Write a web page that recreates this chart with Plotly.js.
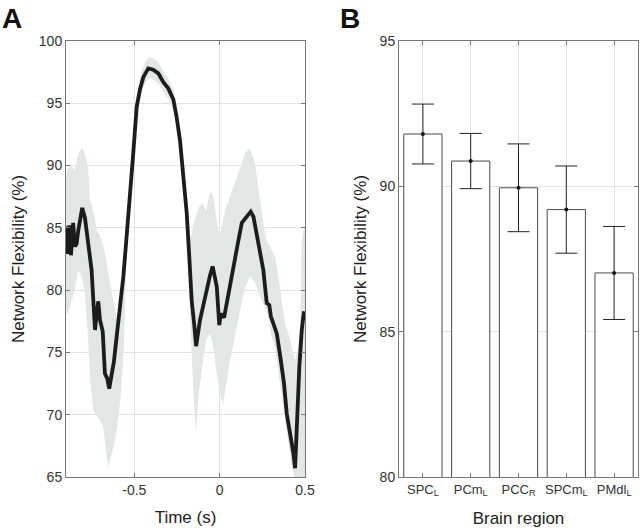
<!DOCTYPE html>
<html>
<head>
<meta charset="utf-8">
<script src="https://cdn.plot.ly/plotly-3.0.1.min.js"></script>
<style>html,body{margin:0;padding:0;background:#fff;}#chart{width:640px;height:531px;}</style>
</head>
<body>
<div id="chart"></div>
<script>
// ---- Panel A: network flexibility over time ----
const time = [-0.900,-0.895,-0.890,-0.881,-0.871,-0.858,-0.848,-0.838,-0.828,-0.818,-0.805,-0.789,-0.770,-0.750,-0.740,-0.730,-0.720,-0.711,-0.701,-0.685,-0.672,-0.658,-0.647,-0.632,-0.620,-0.603,-0.584,-0.564,-0.545,-0.525,-0.506,-0.486,-0.467,-0.447,-0.418,-0.389,-0.359,-0.330,-0.301,-0.271,-0.252,-0.232,-0.213,-0.193,-0.178,-0.164,-0.148,-0.138,-0.115,-0.086,-0.056,-0.041,-0.017,-0.002,0.006,0.026,0.051,0.080,0.110,0.130,0.159,0.182,0.198,0.217,0.237,0.256,0.276,0.291,0.300,0.335,0.358,0.377,0.393,0.413,0.432,0.442,0.455,0.467,0.481,0.494];
const flexibility = [83.0,85.1,82.9,85.2,82.8,85.4,83.5,83.7,84.8,85.8,86.6,85.8,84.0,81.6,79.2,76.8,78.1,79.1,77.6,76.7,73.3,72.9,72.1,73.3,74.2,76.3,78.4,81.1,84.3,87.5,91.0,94.7,96.1,97.1,97.8,97.7,97.4,96.7,96.2,95.3,93.9,92.0,89.4,86.2,82.7,79.2,77.1,75.5,77.6,79.5,81.2,81.9,80.3,77.2,78.1,77.8,79.75,81.9,84.0,85.4,85.9,86.3,85.9,84.6,83.2,81.6,78.95,78.8,77.9,76.5,74.4,72.5,70.1,68.5,66.9,65.7,70.1,73.9,76.8,78.3];

const bandTime = [-0.900,-0.890,-0.870,-0.850,-0.830,-0.808,-0.790,-0.770,-0.760,-0.740,-0.720,-0.700,-0.682,-0.665,-0.652,-0.640,-0.620,-0.600,-0.584,-0.564,-0.545,-0.525,-0.506,-0.486,-0.467,-0.447,-0.418,-0.389,-0.359,-0.330,-0.301,-0.271,-0.252,-0.232,-0.213,-0.193,-0.178,-0.164,-0.150,-0.138,-0.120,-0.100,-0.080,-0.056,-0.037,-0.017,0.000,0.018,0.040,0.061,0.090,0.120,0.150,0.178,0.207,0.237,0.260,0.276,0.300,0.325,0.345,0.364,0.384,0.403,0.420,0.442,0.461,0.471,0.481,0.490,0.500];
const bandUpper = [89.0,89.8,90.0,89.6,90.8,91.5,91.0,89.8,87.2,86.4,84.8,84.3,83.6,82.5,81.3,80.4,78.8,77.5,79.3,82.0,85.2,88.4,91.9,95.6,97.0,98.0,98.7,98.6,98.3,97.6,97.0,96.1,94.6,92.7,90.1,87.0,84.0,84.5,85.5,86.0,86.7,87.0,86.3,87.9,87.5,85.5,84.2,85.5,86.8,87.5,88.7,89.9,91.0,91.4,90.2,87.2,85.0,84.0,83.3,82.7,81.0,79.2,77.2,76.5,75.5,74.4,75.5,76.5,84.0,84.8,85.1];
const bandLower = [78.4,78.0,79.0,80.0,81.6,81.1,80.0,76.0,73.0,70.4,70.0,69.5,69.0,67.0,65.8,66.5,67.5,69.0,70.9,74.4,82.8,86.5,90.0,93.8,95.2,96.3,97.0,96.9,96.6,95.9,95.4,94.5,93.1,91.2,88.6,85.3,80.5,75.0,70.5,68.6,72.0,74.0,76.0,76.5,75.5,73.3,71.8,70.8,72.5,74.4,76.3,78.4,80.3,81.1,80.6,79.5,78.7,78.4,76.5,75.3,73.5,71.5,69.5,67.5,66.0,64.8,64.5,64.5,64.3,64.2,64.0];

const timeTickVals = [-0.5, 0, 0.5];
const timeTickText = ['-0.5', '0', '0.5'];
const flexTickVals = [65, 70, 75, 80, 85, 90, 95, 100];

// ---- Panel B: flexibility per brain region ----
const regions = ['SPC<sub>L</sub>', 'PCm<sub>L</sub>', 'PCC<sub>R</sub>', 'SPCm<sub>L</sub>', 'PMdl<sub>L</sub>'];
const regionMean = [91.8, 90.87, 89.95, 89.2, 87.02];
const regionErr = [1.03, 0.95, 1.51, 1.5, 1.6];
const regionTickVals = [80, 85, 90, 95];

const FONT = 'Liberation Sans, Arial, Helvetica, sans-serif';
const W = 640, H = 531;
const yDom = [1 - 477 / H, 1 - 41 / H];

const traces = [
  {
    x: bandTime.concat(bandTime.slice().reverse()),
    y: bandUpper.concat(bandLower.slice().reverse()),
    fill: 'toself', fillcolor: '#e3e6e6', mode: 'lines', line: {width: 0, color: 'rgba(0,0,0,0)'},
    hoverinfo: 'skip', showlegend: false, xaxis: 'x', yaxis: 'y'
  },
  {
    x: time, y: flexibility, mode: 'lines',
    line: {color: '#1c1c1c', width: 3.8}, showlegend: false, xaxis: 'x', yaxis: 'y'
  },
  {
    type: 'bar', x: regions, y: regionMean, width: 0.8,
    marker: {color: '#ffffff', line: {color: '#4a4a4a', width: 1}},
    error_y: {type: 'data', array: regionErr, visible: true, color: '#222', thickness: 1, width: 11},
    showlegend: false, xaxis: 'x2', yaxis: 'y2'
  },
  {
    x: regions, y: regionMean, mode: 'markers',
    marker: {color: '#111', size: 4}, showlegend: false, xaxis: 'x2', yaxis: 'y2'
  }
];

const axisCommon = {
  showline: true, mirror: 'ticks', linecolor: '#777', linewidth: 1,
  ticks: 'inside', ticklen: 4, tickcolor: '#777',
  showgrid: true, gridcolor: '#e2e2e2', gridwidth: 1, zeroline: false,
  tickfont: {family: FONT, size: 14, color: '#333'}
};

const layout = {
  width: W, height: H,
  margin: {l: 0, r: 0, t: 0, b: 0},
  paper_bgcolor: '#fff', plot_bgcolor: '#fff',
  font: {family: FONT, color: '#222'},
  showlegend: false,
  xaxis: Object.assign({}, axisCommon, {
    domain: [66 / W, 305 / W], range: [-0.9, 0.5],
    tickvals: timeTickVals, ticktext: timeTickText,
    title: {text: 'Time (s)', font: {family: FONT, size: 17, color: '#222'}, standoff: 14}
  }),
  yaxis: Object.assign({}, axisCommon, {
    domain: yDom, range: [65, 100], tickvals: flexTickVals,
    title: {text: 'Network Flexibility (%)', font: {family: FONT, size: 17, color: '#222'}, standoff: 9}
  }),
  xaxis2: Object.assign({}, axisCommon, {
    domain: [399 / W, 638 / W], type: 'category', range: [-0.5, 4.5], anchor: 'y2',
    tickfont: {family: FONT, size: 13, color: '#333'},
    title: {text: 'Brain region', font: {family: FONT, size: 17, color: '#222'}, standoff: 14}
  }),
  yaxis2: Object.assign({}, axisCommon, {
    domain: yDom, range: [80, 95], tickvals: regionTickVals, anchor: 'x2',
    title: {text: 'Network Flexibility (%)', font: {family: FONT, size: 17, color: '#222'}, standoff: 8}
  }),
  annotations: [
    {text: '<b>A</b>', xref: 'paper', yref: 'paper', x: 0, y: 0.998, xanchor: 'left', yanchor: 'top',
     showarrow: false, font: {family: FONT, size: 28, color: '#111'}},
    {text: '<b>B</b>', xref: 'paper', yref: 'paper', x: 338 / W, y: 0.998, xanchor: 'left', yanchor: 'top',
     showarrow: false, font: {family: FONT, size: 28, color: '#111'}}
  ]
};

Plotly.newPlot('chart', traces, layout, {displayModeBar: false, staticPlot: true});
</script>
</body>
</html>
